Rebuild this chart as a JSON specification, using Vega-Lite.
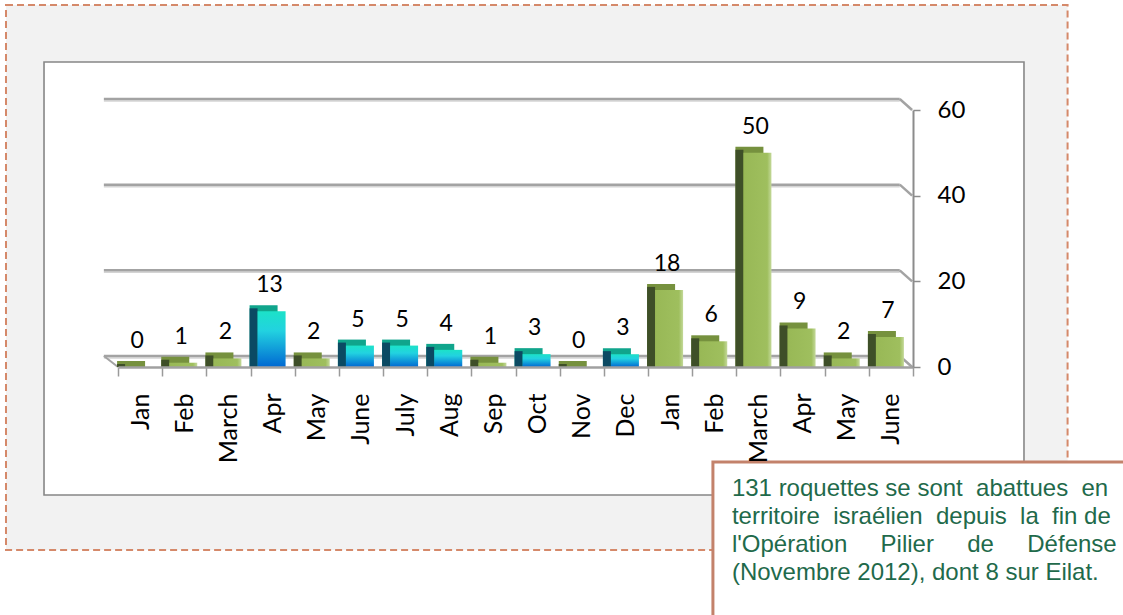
{
  "$schema": "https://vega.github.io/schema/vega-lite/v6.json",
  "width": 795,
  "height": 257,
  "autosize": {"type": "none"},
  "padding": {"left": 118, "top": 110, "right": 210, "bottom": 248},
  "background": "#FFFFFF",
  "config": {"view": {"stroke": null}, "font": "Lato"},
  "datasets": {
    "rockets": [
      {"period": "Jan 2012", "rockets": 0, "category": "B"},
      {"period": "Feb 2012", "rockets": 1, "category": "B"},
      {"period": "March 2012", "rockets": 2, "category": "B"},
      {"period": "Apr 2012", "rockets": 13, "category": "A"},
      {"period": "May 2012", "rockets": 2, "category": "B"},
      {"period": "June 2012", "rockets": 5, "category": "A"},
      {"period": "July 2012", "rockets": 5, "category": "A"},
      {"period": "Aug 2012", "rockets": 4, "category": "A"},
      {"period": "Sep 2012", "rockets": 1, "category": "B"},
      {"period": "Oct 2012", "rockets": 3, "category": "A"},
      {"period": "Nov 2012", "rockets": 0, "category": "B"},
      {"period": "Dec 2012", "rockets": 3, "category": "A"},
      {"period": "Jan 2013", "rockets": 18, "category": "B"},
      {"period": "Feb 2013", "rockets": 6, "category": "B"},
      {"period": "March 2013", "rockets": 50, "category": "B"},
      {"period": "Apr 2013", "rockets": 9, "category": "B"},
      {"period": "May 2013", "rockets": 2, "category": "B"},
      {"period": "June 2013", "rockets": 7, "category": "B"}
    ],
    "grid": [{"v": 0}, {"v": 20}, {"v": 40}, {"v": 60}]
  },
  "resolve": {"scale": {"x": "independent", "y": "independent"}},
  "layer": [
    {
      "layer": [
        {
          "data": {"values": [{}]},
          "mark": {"type": "rect", "fill": "#F2F2F2", "stroke": "#D5896A", "strokeWidth": 2, "strokeDash": [7, 4]},
          "encoding": {
            "x": {"datum": -2.536, "type": "quantitative", "scale": {"domain": [0, 18], "nice": false, "zero": false}, "axis": null},
            "x2": {"datum": 21.5},
            "y": {"datum": 84.5, "type": "quantitative", "scale": {"domain": [0, 60], "nice": false, "zero": false}, "axis": null},
            "y2": {"datum": -42.72}
          }
        },
        {
          "data": {"values": [{}]},
          "mark": {"type": "rect", "fill": "#FFFFFF", "stroke": "#878787", "strokeWidth": 1.6},
          "encoding": {
            "x": {"datum": -1.675, "type": "quantitative", "scale": {"domain": [0, 18], "nice": false, "zero": false}, "axis": null},
            "x2": {"datum": 20.513},
            "y": {"datum": 71.2, "type": "quantitative", "scale": {"domain": [0, 60], "nice": false, "zero": false}, "axis": null},
            "y2": {"datum": -29.9}
          }
        },
        {
          "data": {"name": "grid"},
          "mark": {"type": "rule", "color": "#D4D4D4", "strokeWidth": 1.5, "yOffset": -9, "y2Offset": -9},
          "encoding": {
            "x": {"datum": -0.32, "type": "quantitative", "scale": {"domain": [0, 18], "nice": false, "zero": false}, "axis": null},
            "x2": {"datum": 17.7},
            "y": {"field": "v", "type": "quantitative", "scale": {"domain": [0, 60], "nice": false, "zero": false}, "axis": null},
            "y2": {"field": "v"}
          }
        },
        {
          "data": {"name": "grid"},
          "mark": {"type": "rule", "color": "#A3A3A3", "strokeWidth": 2.5, "yOffset": -11, "y2Offset": -11},
          "encoding": {
            "x": {"datum": -0.32, "type": "quantitative", "scale": {"domain": [0, 18], "nice": false, "zero": false}, "axis": null},
            "x2": {"datum": 17.7},
            "y": {"field": "v", "type": "quantitative", "scale": {"domain": [0, 60], "nice": false, "zero": false}, "axis": null},
            "y2": {"field": "v"}
          }
        },
        {
          "data": {"name": "grid"},
          "mark": {"type": "rule", "color": "#A3A3A3", "strokeWidth": 2.5, "yOffset": -11, "y2Offset": 0},
          "encoding": {
            "x": {"datum": 17.7, "type": "quantitative", "scale": {"domain": [0, 18], "nice": false, "zero": false}, "axis": null},
            "x2": {"datum": 17.98},
            "y": {"field": "v", "type": "quantitative", "scale": {"domain": [0, 60], "nice": false, "zero": false}, "axis": null},
            "y2": {"field": "v"}
          }
        },
        {
          "data": {"name": "grid"},
          "transform": [{"filter": "datum.v === 0"}],
          "mark": {"type": "rule", "color": "#A3A3A3", "strokeWidth": 2, "yOffset": -11, "y2Offset": 0},
          "encoding": {
            "x": {"datum": -0.32, "type": "quantitative", "scale": {"domain": [0, 18], "nice": false, "zero": false}, "axis": null},
            "x2": {"datum": 0},
            "y": {"field": "v", "type": "quantitative", "scale": {"domain": [0, 60], "nice": false, "zero": false}, "axis": null},
            "y2": {"field": "v"}
          }
        }
      ]
    },
    {
      "data": {"name": "rockets"},
      "encoding": {
        "x": {
          "field": "period", "type": "nominal", "sort": null, "title": null,
          "scale": {"paddingInner": 0, "paddingOuter": 0},
          "axis": {
            "labelExpr": "isString(datum.value) ? split(datum.value, ' ')[0] : ''", "labelAngle": 270, "labelFont": "Lato", "labelFontSize": 25,
            "labelColor": "#000000", "labelPadding": 17, "labelOverlap": false, "tickBand": "extent", "tickSize": 9,
            "tickColor": "#9A9A9A", "tickWidth": 1.5, "domainColor": "#A0A0A0", "domainWidth": 2.5, "title": null, "zindex": 1
          }
        },
        "y": {
          "field": "rockets", "type": "quantitative", "title": null,
          "scale": {"domain": [0, 60], "nice": false, "zero": false},
          "axis": {
            "orient": "right", "values": [0, 20, 40, 60], "labelFont": "Lato", "labelFontSize": 24, "labelColor": "#000000",
            "labelPadding": 17, "tickSize": 7, "tickColor": "#8C8C8C", "tickWidth": 1.5, "domainColor": "#8C8C8C",
            "domainWidth": 2, "grid": false, "title": null, "zindex": 1
          }
        }
      },
      "layer": [
        {
          "mark": {"type": "bar", "width": 28, "xOffset": -9, "yOffset": -6, "y2Offset": 0},
          "encoding": {
            "y2": {"datum": 0},
            "color": {"condition": {"test": "datum.category === 'A'", "value": "#10A58C"}, "value": "#76913E"}
          }
        },
        {
          "mark": {"type": "bar", "width": 8, "xOffset": -19, "yOffset": -3, "y2Offset": 0},
          "encoding": {
            "y2": {"datum": 0},
            "color": {"condition": {"test": "datum.category === 'A'", "value": "#0B4A63"}, "value": "#3E4F28"}
          }
        },
        {
          "transform": [{"filter": "datum.category === 'A'"}],
          "mark": {
            "type": "bar", "width": 28, "xOffset": -1,
            "fill": {"gradient": "linear", "x1": 0, "y1": 0, "x2": 0, "y2": 1,
              "stops": [{"offset": 0, "color": "#1CE2C8"}, {"offset": 0.35, "color": "#22D2E0"}, {"offset": 1, "color": "#0068D2"}]}
          },
          "encoding": {"y2": {"datum": 0}}
        },
        {
          "transform": [{"filter": "datum.category === 'B'"}],
          "mark": {
            "type": "bar", "width": 28, "xOffset": -1,
            "fill": {"gradient": "linear", "x1": 0, "y1": 0, "x2": 1, "y2": 0,
              "stops": [{"offset": 0, "color": "#98B856"}, {"offset": 0.85, "color": "#9FBF5E"}, {"offset": 1, "color": "#C4D99A"}]}
          },
          "encoding": {"y2": {"datum": 0}}
        },
        {
          "mark": {"type": "text", "font": "Lato", "fontSize": 23, "color": "#000000", "align": "center", "baseline": "alphabetic", "dx": -3, "dy": -19},
          "encoding": {"text": {"field": "rockets", "type": "quantitative"}}
        }
      ]
    },
    {
      "data": {"values": [{}]},
      "layer": [
        {
          "mark": {"type": "rect", "fill": "#FFFFFF", "stroke": "#C3826B", "strokeWidth": 3},
          "encoding": {
            "x": {"datum": 13.47, "type": "quantitative", "scale": {"domain": [0, 18], "nice": false, "zero": false}, "axis": null},
            "x2": {"datum": 23.5},
            "y": {"datum": -22.18, "type": "quantitative", "scale": {"domain": [0, 60], "nice": false, "zero": false}, "axis": null},
            "y2": {"datum": -70}
          }
        },
        {
          "mark": {
            "type": "text", "font": "Liberation Sans", "fontSize": 24, "color": "#1F6A4B", "align": "left", "baseline": "alphabetic", "lineHeight": 28.2,
            "text": ["131 roquettes se sont\u00a0 abattues\u00a0 en", "territoire\u00a0 israélien\u00a0 depuis\u00a0 la\u00a0 fin de", "l'Opération\u00a0\u00a0\u00a0\u00a0\u00a0Pilier\u00a0\u00a0\u00a0\u00a0\u00a0de\u00a0\u00a0\u00a0\u00a0\u00a0Défense", "(Novembre 2012), dont 8 sur Eilat."]
          },
          "encoding": {
            "x": {"datum": 13.9, "type": "quantitative", "scale": {"domain": [0, 18], "nice": false, "zero": false}, "axis": null},
            "y": {"datum": -30.0, "type": "quantitative", "scale": {"domain": [0, 60], "nice": false, "zero": false}, "axis": null}
          }
        }
      ]
    }
  ]
}
